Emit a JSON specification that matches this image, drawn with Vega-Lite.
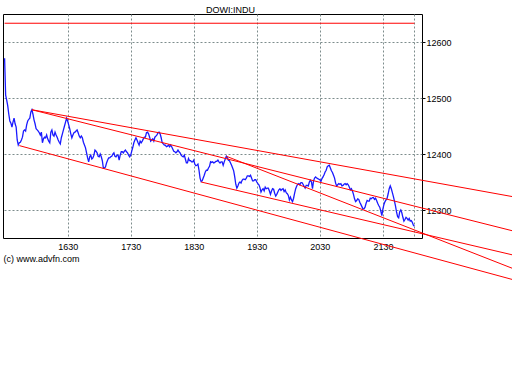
{
"$schema":"https://vega.github.io/schema/vega-lite/v6.json",
"width":419,"height":224,
"autosize":{"type":"none"},
"padding":{"left":3,"top":14,"right":90,"bottom":146},
"background":"white",
"title":{"text":"DOWI:INDU","fontSize":9,"fontWeight":"normal","color":"black","anchor":"middle","dx":18,"dy":9,"offset":1,"baseline":"alphabetic"},
"config":{"font":"Liberation Sans","view":{"stroke":"black","strokeWidth":1},
"axis":{"gridColor":"#7d8c8c","gridDash":[2,2],"gridOpacity":1,"gridWidth":1,"labelColor":"black","labelFontSize":9,"domain":false,"tickColor":"black","titleColor":"black","titleFontSize":9,"titleFontWeight":"normal"}},
"encoding":{
"x":{"field":"t","type":"temporal","scale":{"domain":[{"year":1900,"month":1,"date":1,"hours":15,"minutes":28,"seconds":29},{"year":1900,"month":1,"date":1,"hours":22,"minutes":7,"seconds":12}],"nice":false},
"axis":{"values":[{"year":1900,"month":1,"date":1,"hours":16,"minutes":30},{"year":1900,"month":1,"date":1,"hours":17,"minutes":30},{"year":1900,"month":1,"date":1,"hours":18,"minutes":30},{"year":1900,"month":1,"date":1,"hours":19,"minutes":30},{"year":1900,"month":1,"date":1,"hours":20,"minutes":30},{"year":1900,"month":1,"date":1,"hours":21,"minutes":30},{"year":1900,"month":1,"date":1,"hours":22,"minutes":0}],"format":"%H%M","labelExpr":"datum.label == '2200' ? '' : datum.label","ticks":false,"labelPadding":4,"labelFlush":false,"labelOverlap":false,"grid":true,"title":"(c) www.advfn.com","titleAnchor":"start","titleAlign":"left","titlePadding":3}},
"y":{"field":"v","type":"quantitative","scale":{"domain":[12250,12650],"nice":false,"zero":false},
"axis":{"orient":"right","values":[12300,12400,12500,12600],"format":"d","tickSize":3,"labelPadding":1,"grid":true,"title":null}}
},
"layer":[
{"data":{"values":[
{"t":"15:30","v":12571},{"t":"15:31","v":12505},{"t":"15:32","v":12496},{"t":"15:33","v":12486},{"t":"15:34","v":12471},{"t":"15:35","v":12459},{"t":"15:36","v":12455},{"t":"15:37","v":12448},{"t":"15:38","v":12457},{"t":"15:39","v":12464},
{"t":"15:40","v":12454},{"t":"15:41","v":12448},{"t":"15:42","v":12425},{"t":"15:43","v":12416},{"t":"15:44","v":12420},{"t":"15:45","v":12421},{"t":"15:46","v":12425},{"t":"15:47","v":12430},{"t":"15:48","v":12441},{"t":"15:49","v":12443},
{"t":"15:50","v":12441},{"t":"15:51","v":12452},{"t":"15:52","v":12459},{"t":"15:53","v":12462},{"t":"15:54","v":12464},{"t":"15:55","v":12475},{"t":"15:56","v":12479},{"t":"15:57","v":12471},{"t":"15:58","v":12461},{"t":"15:59","v":12454},
{"t":"16:00","v":12445},{"t":"16:01","v":12443},{"t":"16:02","v":12441},{"t":"16:03","v":12438},{"t":"16:04","v":12434},{"t":"16:05","v":12439},{"t":"16:06","v":12420},{"t":"16:07","v":12427},{"t":"16:08","v":12430},{"t":"16:09","v":12429},
{"t":"16:10","v":12434},{"t":"16:11","v":12427},{"t":"16:12","v":12423},{"t":"16:13","v":12420},{"t":"16:14","v":12439},{"t":"16:15","v":12443},{"t":"16:16","v":12434},{"t":"16:17","v":12432},{"t":"16:18","v":12439},{"t":"16:19","v":12434},
{"t":"16:20","v":12430},{"t":"16:21","v":12425},{"t":"16:22","v":12421},{"t":"16:23","v":12418},{"t":"16:24","v":12429},{"t":"16:25","v":12436},{"t":"16:26","v":12443},{"t":"16:27","v":12450},{"t":"16:28","v":12457},{"t":"16:29","v":12464},
{"t":"16:30","v":12459},{"t":"16:31","v":12452},{"t":"16:32","v":12445},{"t":"16:33","v":12436},{"t":"16:34","v":12429},{"t":"16:35","v":12434},{"t":"16:36","v":12438},{"t":"16:37","v":12439},{"t":"16:38","v":12441},{"t":"16:39","v":12443},
{"t":"16:40","v":12438},{"t":"16:41","v":12432},{"t":"16:42","v":12429},{"t":"16:43","v":12432},{"t":"16:44","v":12429},{"t":"16:45","v":12421},{"t":"16:46","v":12416},{"t":"16:47","v":12411},{"t":"16:48","v":12402},{"t":"16:49","v":12393},
{"t":"16:50","v":12386},{"t":"16:51","v":12395},{"t":"16:52","v":12398},{"t":"16:53","v":12391},{"t":"16:54","v":12393},{"t":"16:55","v":12398},{"t":"16:56","v":12407},{"t":"16:57","v":12405},{"t":"16:58","v":12402},{"t":"16:59","v":12396},
{"t":"17:00","v":12395},{"t":"17:01","v":12400},{"t":"17:02","v":12395},{"t":"17:03","v":12388},{"t":"17:04","v":12375},{"t":"17:05","v":12375},{"t":"17:06","v":12377},{"t":"17:07","v":12384},{"t":"17:08","v":12389},{"t":"17:09","v":12393},
{"t":"17:10","v":12393},{"t":"17:11","v":12395},{"t":"17:12","v":12396},{"t":"17:13","v":12400},{"t":"17:14","v":12402},{"t":"17:15","v":12396},{"t":"17:16","v":12395},{"t":"17:17","v":12398},{"t":"17:18","v":12398},{"t":"17:19","v":12389},
{"t":"17:20","v":12398},{"t":"17:21","v":12404},{"t":"17:22","v":12404},{"t":"17:23","v":12402},{"t":"17:24","v":12405},{"t":"17:25","v":12407},{"t":"17:26","v":12404},{"t":"17:27","v":12402},{"t":"17:28","v":12398},{"t":"17:29","v":12395},
{"t":"17:30","v":12398},{"t":"17:31","v":12405},{"t":"17:32","v":12412},{"t":"17:33","v":12420},{"t":"17:34","v":12425},{"t":"17:35","v":12429},{"t":"17:36","v":12425},{"t":"17:37","v":12420},{"t":"17:38","v":12416},{"t":"17:39","v":12423},
{"t":"17:40","v":12420},{"t":"17:41","v":12423},{"t":"17:42","v":12427},{"t":"17:43","v":12430},{"t":"17:44","v":12430},{"t":"17:45","v":12438},{"t":"17:46","v":12439},{"t":"17:47","v":12436},{"t":"17:48","v":12430},{"t":"17:49","v":12423},
{"t":"17:50","v":12425},{"t":"17:51","v":12427},{"t":"17:52","v":12423},{"t":"17:53","v":12430},{"t":"17:54","v":12432},{"t":"17:55","v":12434},{"t":"17:56","v":12438},{"t":"17:57","v":12439},{"t":"17:58","v":12436},{"t":"17:59","v":12429},
{"t":"18:00","v":12420},{"t":"18:01","v":12418},{"t":"18:02","v":12416},{"t":"18:03","v":12416},{"t":"18:04","v":12413},{"t":"18:05","v":12414},{"t":"18:06","v":12416},{"t":"18:07","v":12413},{"t":"18:08","v":12416},{"t":"18:09","v":12413},
{"t":"18:10","v":12409},{"t":"18:11","v":12405},{"t":"18:12","v":12404},{"t":"18:13","v":12402},{"t":"18:14","v":12404},{"t":"18:15","v":12407},{"t":"18:16","v":12404},{"t":"18:17","v":12402},{"t":"18:18","v":12398},{"t":"18:19","v":12396},
{"t":"18:20","v":12395},{"t":"18:21","v":12398},{"t":"18:22","v":12391},{"t":"18:23","v":12384},{"t":"18:24","v":12384},{"t":"18:25","v":12392},{"t":"18:26","v":12388},{"t":"18:27","v":12388},{"t":"18:28","v":12386},{"t":"18:29","v":12386},
{"t":"18:30","v":12389},{"t":"18:31","v":12382},{"t":"18:32","v":12379},{"t":"18:33","v":12380},{"t":"18:34","v":12382},{"t":"18:35","v":12371},{"t":"18:36","v":12357},{"t":"18:37","v":12351},{"t":"18:38","v":12352},{"t":"18:39","v":12357},
{"t":"18:40","v":12362},{"t":"18:41","v":12368},{"t":"18:42","v":12371},{"t":"18:43","v":12371},{"t":"18:44","v":12375},{"t":"18:45","v":12378},{"t":"18:46","v":12386},{"t":"18:47","v":12385},{"t":"18:48","v":12386},{"t":"18:49","v":12384},
{"t":"18:50","v":12385},{"t":"18:51","v":12387},{"t":"18:52","v":12387},{"t":"18:53","v":12389},{"t":"18:54","v":12386},{"t":"18:55","v":12384},{"t":"18:56","v":12386},{"t":"18:57","v":12386},{"t":"18:58","v":12380},{"t":"18:59","v":12386},
{"t":"19:00","v":12391},{"t":"19:01","v":12396},{"t":"19:02","v":12393},{"t":"19:03","v":12389},{"t":"19:04","v":12388},{"t":"19:05","v":12384},{"t":"19:06","v":12380},{"t":"19:07","v":12375},{"t":"19:08","v":12370},{"t":"19:09","v":12359},
{"t":"19:10","v":12346},{"t":"19:11","v":12339},{"t":"19:12","v":12343},{"t":"19:13","v":12348},{"t":"19:14","v":12350},{"t":"19:15","v":12348},{"t":"19:16","v":12353},{"t":"19:17","v":12355},{"t":"19:18","v":12355},{"t":"19:19","v":12354},
{"t":"19:20","v":12357},{"t":"19:21","v":12361},{"t":"19:22","v":12361},{"t":"19:23","v":12360},{"t":"19:24","v":12362},{"t":"19:25","v":12357},{"t":"19:26","v":12352},{"t":"19:27","v":12352},{"t":"19:28","v":12354},{"t":"19:29","v":12354},
{"t":"19:30","v":12350},{"t":"19:31","v":12347},{"t":"19:32","v":12345},{"t":"19:33","v":12340},{"t":"19:34","v":12332},{"t":"19:35","v":12336},{"t":"19:36","v":12338},{"t":"19:37","v":12334},{"t":"19:38","v":12341},{"t":"19:39","v":12338},
{"t":"19:40","v":12339},{"t":"19:41","v":12339},{"t":"19:42","v":12334},{"t":"19:43","v":12328},{"t":"19:44","v":12334},{"t":"19:45","v":12338},{"t":"19:46","v":12337},{"t":"19:47","v":12330},{"t":"19:48","v":12325},{"t":"19:49","v":12328},
{"t":"19:50","v":12332},{"t":"19:51","v":12336},{"t":"19:52","v":12338},{"t":"19:53","v":12335},{"t":"19:54","v":12337},{"t":"19:55","v":12338},{"t":"19:56","v":12333},{"t":"19:57","v":12336},{"t":"19:58","v":12331},{"t":"19:59","v":12329},
{"t":"20:00","v":12326},{"t":"20:01","v":12318},{"t":"20:02","v":12323},{"t":"20:03","v":12318},{"t":"20:04","v":12315},{"t":"20:05","v":12321},{"t":"20:06","v":12330},{"t":"20:07","v":12338},{"t":"20:08","v":12343},{"t":"20:09","v":12346},
{"t":"20:10","v":12347},{"t":"20:11","v":12345},{"t":"20:12","v":12349},{"t":"20:13","v":12349},{"t":"20:14","v":12346},{"t":"20:15","v":12342},{"t":"20:16","v":12339},{"t":"20:17","v":12344},{"t":"20:18","v":12344},{"t":"20:19","v":12343},
{"t":"20:20","v":12350},{"t":"20:21","v":12353},{"t":"20:22","v":12350},{"t":"20:23","v":12338},{"t":"20:24","v":12352},{"t":"20:25","v":12357},{"t":"20:26","v":12359},{"t":"20:27","v":12357},{"t":"20:28","v":12356},{"t":"20:29","v":12355},
{"t":"20:30","v":12354},{"t":"20:31","v":12351},{"t":"20:32","v":12356},{"t":"20:33","v":12359},{"t":"20:34","v":12363},{"t":"20:35","v":12368},{"t":"20:36","v":12371},{"t":"20:37","v":12377},{"t":"20:38","v":12379},{"t":"20:39","v":12380},
{"t":"20:40","v":12375},{"t":"20:41","v":12370},{"t":"20:42","v":12367},{"t":"20:43","v":12362},{"t":"20:44","v":12357},{"t":"20:45","v":12348},{"t":"20:46","v":12343},{"t":"20:47","v":12345},{"t":"20:48","v":12347},{"t":"20:49","v":12346},
{"t":"20:50","v":12347},{"t":"20:51","v":12343},{"t":"20:52","v":12344},{"t":"20:53","v":12346},{"t":"20:54","v":12347},{"t":"20:55","v":12345},{"t":"20:56","v":12347},{"t":"20:57","v":12345},{"t":"20:58","v":12341},{"t":"20:59","v":12336},
{"t":"21:00","v":12338},{"t":"21:01","v":12334},{"t":"21:02","v":12328},{"t":"21:03","v":12320},{"t":"21:04","v":12315},{"t":"21:05","v":12317},{"t":"21:06","v":12320},{"t":"21:07","v":12319},{"t":"21:08","v":12314},{"t":"21:09","v":12310},
{"t":"21:10","v":12306},{"t":"21:11","v":12302},{"t":"21:12","v":12302},{"t":"21:13","v":12305},{"t":"21:14","v":12312},{"t":"21:15","v":12317},{"t":"21:16","v":12316},{"t":"21:17","v":12316},{"t":"21:18","v":12321},{"t":"21:19","v":12320},
{"t":"21:20","v":12322},{"t":"21:21","v":12322},{"t":"21:22","v":12319},{"t":"21:23","v":12321},{"t":"21:24","v":12317},{"t":"21:25","v":12312},{"t":"21:26","v":12308},{"t":"21:27","v":12305},{"t":"21:28","v":12298},{"t":"21:29","v":12290},
{"t":"21:30","v":12302},{"t":"21:31","v":12310},{"t":"21:32","v":12315},{"t":"21:33","v":12318},{"t":"21:34","v":12321},{"t":"21:35","v":12329},{"t":"21:36","v":12338},{"t":"21:37","v":12343},{"t":"21:38","v":12338},{"t":"21:39","v":12331},
{"t":"21:40","v":12324},{"t":"21:41","v":12316},{"t":"21:42","v":12307},{"t":"21:43","v":12296},{"t":"21:44","v":12288},{"t":"21:45","v":12286},{"t":"21:46","v":12297},{"t":"21:47","v":12300},{"t":"21:48","v":12295},{"t":"21:49","v":12287},
{"t":"21:50","v":12280},{"t":"21:51","v":12283},{"t":"21:52","v":12287},{"t":"21:53","v":12285},{"t":"21:54","v":12282},{"t":"21:55","v":12285},{"t":"21:56","v":12280},{"t":"21:57","v":12281},{"t":"21:58","v":12278},{"t":"21:59","v":12273},
{"t":"22:00","v":12271}
],"format":{"parse":{"t":"date:'%H:%M'"}}},
"mark":{"type":"line","color":"#1a1aff","strokeWidth":1.3}},
{"data":{"values":[
{"line":"H","t":"15:30","v":12633.5},{"line":"H","t":"22:00","v":12633.5},
{"line":"A","t":"15:56","v":12479},{"line":"A","t":"23:33","v":12324},
{"line":"B","t":"15:56","v":12479},{"line":"B","t":"23:33","v":12263},
{"line":"C","t":"15:44","v":12415},{"line":"C","t":"23:33","v":12176},
{"line":"D","t":"18:37","v":12350},{"line":"D","t":"23:33","v":12220},
{"line":"E","t":"19:01","v":12396},{"line":"E","t":"23:33","v":12196}
],"format":{"parse":{"t":"date:'%H:%M'"}}},
"mark":{"type":"line","color":"#ff0000","strokeWidth":1},
"encoding":{"detail":{"field":"line"}}}
]
}
